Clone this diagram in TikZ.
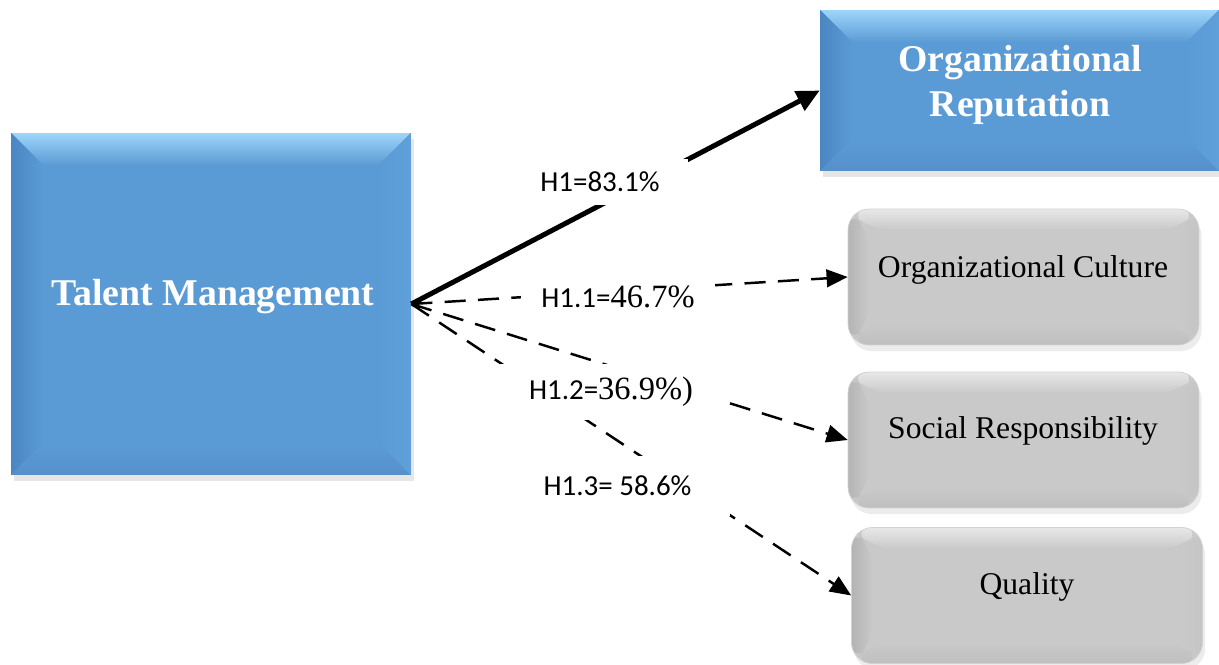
\documentclass[tikz,border=0pt]{standalone}
\usepackage{fontspec}
\setmainfont{Liberation Serif}
\newfontfamily\labfont{Carlito}
\usetikzlibrary{arrows.meta,shadows,calc}
\definecolor{bmain}{HTML}{5B9BD5}
\definecolor{btop}{HTML}{9ED5FA}
\definecolor{bleft}{HTML}{4A86C2}
\definecolor{bbot}{HTML}{5690CC}
\definecolor{bright}{HTML}{5FA0DA}
\definecolor{gmain}{HTML}{C9C9C9}
\definecolor{gtop}{HTML}{E8E8E8}
\definecolor{gleft}{HTML}{B4B4B4}
\definecolor{gbot}{HTML}{BFBFBF}
\definecolor{gright}{HTML}{C5C5C5}
\newcommand\bevelpic[6]{%
  \coordinate (bvA) at (path picture bounding box.north west);
  \coordinate (bvB) at (path picture bounding box.north east);
  \coordinate (bvC) at (path picture bounding box.south east);
  \coordinate (bvD) at (path picture bounding box.south west);
  \coordinate (bva) at ($(bvA)+(#1,-#1)$);
  \coordinate (bvb) at ($(bvB)+(-#1,-#1)$);
  \coordinate (bvc) at ($(bvC)+(-#1,#1)$);
  \coordinate (bvd) at ($(bvD)+(#1,#1)$);
  \shade[top color=#3,bottom color=#2] (bvA)--(bvB)--(bvb)--(bva)--cycle;
  \shade[left color=#4,right color=#2] (bvA)--(bva)--(bvd)--(bvD)--cycle;
  \shade[bottom color=#5,top color=#2] (bvD)--(bvd)--(bvc)--(bvC)--cycle;
  \shade[right color=#6,left color=#2] (bvC)--(bvc)--(bvb)--(bvB)--cycle;
}
\tikzset{
  bluebox/.style={rectangle, fill=bmain, inner sep=0pt,
    drop shadow={shadow xshift=1.5pt, shadow yshift=-3.5pt, opacity=0.2},
    path picture={\bevelpic{0.64cm}{bmain}{btop}{bleft}{bbot}{bright}}},
  graybox/.style={rectangle, rounded corners=0.42cm, fill=gmain, draw=gray!35, line width=0.4pt, inner sep=0pt,
    minimum width=7.02cm, minimum height=2.72cm,
    drop shadow={shadow xshift=1.5pt, shadow yshift=-3.5pt, opacity=0.15},
    path picture={\bevelpic{0.42cm}{gmain}{gtop}{gleft}{gbot}{gright}}},
  bluetext/.style={text=white, font=\fontsize{21.5}{26}\selectfont\bfseries, align=center},
  graytext/.style={text=black, font=\fontsize{18}{22}\selectfont},
  labbox/.style={fill=white, inner sep=0pt, font=\labfont\fontsize{16.5}{19}\selectfont},
  solidarrow/.style={line width=2.85pt, -{Triangle[length=13pt,width=12pt]}},
  dasharrow/.style={line width=1.4pt, dash pattern=on 12pt off 7pt, -{Triangle[length=12pt,width=10pt]}}
}
\begin{document}
\begin{tikzpicture}[x=0.02cm,y=-0.02cm]
\useasboundingbox (0,0) rectangle (1219,665);
% boxes
\node[bluebox, minimum width=8cm, minimum height=6.84cm] (TM) at (211,304) {};
\node[bluebox, minimum width=7.98cm, minimum height=3.22cm] (OR) at (1019.5,90.5) {};
\node[graybox] (OC) at (1023.5,277) {};
\node[graybox] (SR) at (1023.5,440) {};
\node[graybox] (Q) at (1027,595.5) {};
% connectors
\draw[solidarrow] (TM.east) -- (OR.west);
\draw[dasharrow] (TM.east) -- (OC.west);
\draw[dasharrow] (TM.east) -- (SR.west);
\draw[dasharrow] (TM.east) -- (Q.west);
% labels
\node[labbox, minimum width=3.52cm, minimum height=0.92cm] (L1) at (600,182) {H1=83.1\%};
\node[labbox, minimum width=3.9cm, minimum height=0.8cm] (L11) at (618,297) {H1.1={\rmfamily\fontsize{18.5}{21}\selectfont 46.7\%}};
\node[labbox, minimum width=4.44cm, minimum height=1.14cm] (L12) at (611,392) {H1.2={\rmfamily\fontsize{18.5}{21}\selectfont 36.9\%)}};
\node[labbox, minimum width=4.5cm, minimum height=1.2cm] (L13) at (617.5,486) {H1.3= 58.6\%};
% texts
\node[bluetext] (TMt) at (213,297) {Talent Management};
\node[bluetext] (ORt) at (1020,85) {Organizational\\Reputation};
\node[graytext] (OCt) at (1023,270) {Organizational Culture};
\node[graytext] (SRt) at (1023,431) {Social Responsibility};
\node[graytext] (Qt) at (1027,587) {Quality};
\end{tikzpicture}
\end{document}
